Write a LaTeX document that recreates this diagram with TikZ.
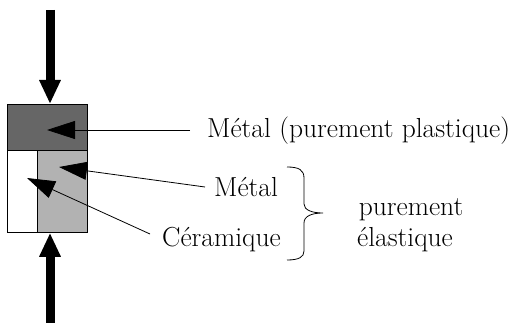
\documentclass[tikz,border=0pt]{standalone}
\usepackage{fontspec}
\usetikzlibrary{positioning, arrows.meta}

\begin{document}
\begin{tikzpicture}[x=1pt, y=-1pt, font=\fontsize{27.5}{32}\selectfont,
    part/.style={draw, line width=0.8pt, inner sep=0pt, anchor=north west},
    label/.style={inner sep=0pt},
    pointer/.style={line width=0.8pt, -{Triangle[length=28pt, width=18pt]}},
    load/.style={line width=9pt, -{Triangle[length=24pt, width=20pt]}}]
    \useasboundingbox (0, 0) rectangle (514, 323);

    % Sample: plastic metal on top, elastic metal and ceramic below
    \node[part, fill=black!60, minimum width=80pt, minimum height=46pt] (plast) at (7, 104) {};
    \node[part, fill=white, minimum width=30pt, minimum height=82pt] (ceram) at (7, 150) {};
    \node[part, fill=black!30, minimum width=50pt, minimum height=82pt] (elast) at (37, 150) {};

    % Loads
    \coordinate (topend) at (50, 10);
    \coordinate (botend) at (50, 323);
    \draw[load] (topend) -- (topend |- plast.north);
    \draw[load] (botend) -- (botend |- elast.south);

    % Labels
    \node[label, anchor=base west] (lplast) at (207, 138) {Métal (purement plastique)};
    \node[label, anchor=base west] (lmetal) at (214, 197) {Métal};
    \node[label, anchor=base west] (lceram) at (162, 247) {Céramique};
    \node[label, anchor=base] (lpur) at (411, 215) {purement};
    \node[label, anchor=base] (lelas) at (405, 247) {élastique};

    % Pointers
    \coordinate (s1) at (190, 130);
    \coordinate (s2) at (205, 187);
    \coordinate (s3) at (150, 234);
    \coordinate (t1) at (47, 130);
    \coordinate (t2) at (59, 167);
    \coordinate (t3) at (27, 178);
    \draw[pointer] (s1) -- (t1);
    \draw[pointer] (s2) -- (t2);
    \draw[pointer] (s3) -- (t3);

    % Brace
    \coordinate (btop) at (287, 167);
    \coordinate (btip) at (323, 213);
    \coordinate (bbot) at (287, 260);
    \draw[line width=0.8pt] (btop) .. controls (299, 167) and (304, 170) .. (304, 178)
      -- (304, 204) .. controls (304, 210) and (312, 213) .. (btip)
      .. controls (312, 213) and (304, 216) .. (304, 223)
      -- (304, 251) .. controls (304, 257) and (299, 260) .. (bbot);

  \end{tikzpicture}
\end{document}
